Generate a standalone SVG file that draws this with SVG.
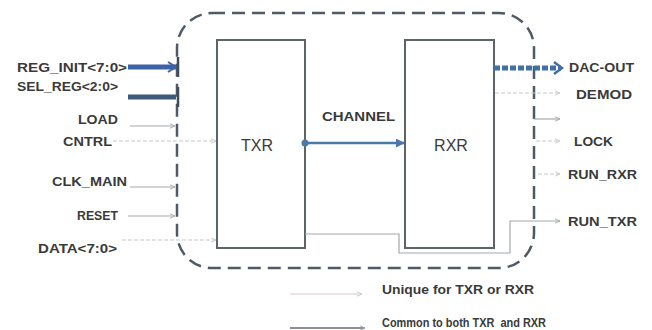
<svg xmlns="http://www.w3.org/2000/svg" width="652" height="330" viewBox="0 0 652 330">
<defs>
<style>
.lbl{font-family:"Liberation Sans",Arial,sans-serif;font-weight:bold;font-size:12.5px;fill:#3a3a3a}
.blk{font-family:"Liberation Sans",Arial,sans-serif;font-size:16px;fill:#3a3a3a}
.box{fill:#fff;stroke:#5c6468;stroke-width:2}
.thin{fill:none;stroke:#a4a9ad;stroke-width:1.2}
.light{fill:none;stroke:#c4c8cc;stroke-width:1.2;stroke-dasharray:4 2}
</style>
<marker id="ah" viewBox="0 0 10 10" refX="9" refY="5" markerWidth="6" markerHeight="6" orient="auto" markerUnits="userSpaceOnUse">
<path d="M0,1 L9,5 L0,9" fill="none" stroke="#a4a9ad" stroke-width="1.5"/>
</marker>
<marker id="ahl" viewBox="0 0 10 10" refX="9" refY="5" markerWidth="6" markerHeight="6" orient="auto" markerUnits="userSpaceOnUse">
<path d="M0,1 L9,5 L0,9" fill="none" stroke="#c4c8cc" stroke-width="1.5"/>
</marker>
<marker id="ahb" viewBox="0 0 10 10" refX="9" refY="5" markerWidth="9" markerHeight="9" orient="auto" markerUnits="userSpaceOnUse">
<path d="M0,0 L10,5 L0,10 z" fill="#4a78a8"/>
</marker>
</defs>
<rect width="652" height="330" fill="#fff"/>

<g id="boundary">
<rect x="177" y="13" width="357" height="255" rx="35" ry="35" fill="none" stroke="#4f5a66" stroke-width="2.5" stroke-dasharray="13 7"/>
</g>

<g id="TXR">
<rect class="box" x="217" y="40" width="88" height="208"/>
<text class="blk" x="257" y="151" text-anchor="middle">TXR</text>
</g>
<g id="RXR">
<rect class="box" x="405" y="40" width="89" height="208"/>
<text class="blk" x="451" y="151" text-anchor="middle">RXR</text>
</g>

<g id="connectors">
<line x1="128" y1="67" x2="176" y2="67" stroke="#3e62a8" stroke-width="5"/>
<path d="M168,62 L176,67 L168,72" fill="none" stroke="#3e62a8" stroke-width="2"/>
<line x1="178" y1="57" x2="178" y2="77" stroke="#3e4e60" stroke-width="2.5"/>
<line x1="128" y1="97" x2="176" y2="97" stroke="#3d5a78" stroke-width="5"/>
<line x1="178" y1="87" x2="178" y2="107" stroke="#3e4e60" stroke-width="2.5"/>
<line class="thin" x1="130" y1="126" x2="175" y2="126" marker-end="url(#ah)"/>
<line class="light" x1="113" y1="141" x2="216" y2="141" marker-end="url(#ahl)"/>
<line class="thin" x1="130" y1="187" x2="175" y2="187" marker-end="url(#ah)"/>
<line class="thin" x1="128" y1="216" x2="175" y2="216" marker-end="url(#ah)"/>
<line class="light" x1="122" y1="240" x2="216" y2="240" marker-end="url(#ahl)"/>
<circle cx="305" cy="143" r="3.5" fill="#4a78a8"/>
<line x1="305" y1="143" x2="404" y2="143" stroke="#4a78a8" stroke-width="2.5" marker-end="url(#ahb)"/>
<line x1="494" y1="68" x2="561" y2="68" stroke="#4070a8" stroke-width="5" stroke-dasharray="6 2"/>
<path d="M554,62 L562,68 L554,74" fill="none" stroke="#4070a8" stroke-width="2.5"/>
<line class="light" x1="495" y1="93" x2="560" y2="93" marker-end="url(#ahl)"/>
<line class="thin" x1="534" y1="119" x2="560" y2="119" marker-end="url(#ah)"/>
<line class="light" x1="536" y1="141" x2="560" y2="141" marker-end="url(#ahl)"/>
<line class="light" x1="538" y1="174" x2="560" y2="174" marker-end="url(#ahl)"/>
<polyline class="thin" points="305,234 399,234 399,253 510,253 510,221 560,221" marker-end="url(#ah)"/>
<line x1="290" y1="294" x2="362" y2="294" stroke="#d8c8cc" stroke-width="1.2" marker-end="url(#ahl)"/>
<line x1="290" y1="328" x2="365" y2="328" stroke="#8a9096" stroke-width="2" marker-end="url(#ah)"/>
</g>

<g id="labels">
<text class="lbl" x="17" y="72" textLength="110" lengthAdjust="spacingAndGlyphs">REG_INIT&lt;7:0&gt;</text>
<text class="lbl" x="17" y="91" textLength="101" lengthAdjust="spacingAndGlyphs">SEL_REG&lt;2:0&gt;</text>
<text class="lbl" x="78" y="124" textLength="40" lengthAdjust="spacingAndGlyphs">LOAD</text>
<text class="lbl" x="63" y="146" textLength="49" lengthAdjust="spacingAndGlyphs">CNTRL</text>
<text class="lbl" x="52" y="186" textLength="75" lengthAdjust="spacingAndGlyphs">CLK_MAIN</text>
<text class="lbl" x="77" y="220" textLength="41" lengthAdjust="spacingAndGlyphs">RESET</text>
<text class="lbl" x="38" y="253" textLength="79" lengthAdjust="spacingAndGlyphs">DATA&lt;7:0&gt;</text>
<text class="lbl" x="322" y="121" textLength="73" lengthAdjust="spacingAndGlyphs">CHANNEL</text>
<text class="lbl" x="569" y="72" textLength="65" lengthAdjust="spacingAndGlyphs">DAC-OUT</text>
<text class="lbl" x="576" y="99" textLength="56" lengthAdjust="spacingAndGlyphs">DEMOD</text>
<text class="lbl" x="574" y="146" textLength="39" lengthAdjust="spacingAndGlyphs">LOCK</text>
<text class="lbl" x="568" y="179" textLength="69" lengthAdjust="spacingAndGlyphs">RUN_RXR</text>
<text class="lbl" x="568" y="226" textLength="69" lengthAdjust="spacingAndGlyphs">RUN_TXR</text>
<text class="lbl" x="382" y="294" textLength="152" lengthAdjust="spacingAndGlyphs">Unique for TXR or RXR</text>
<text class="lbl" x="382" y="327" textLength="164" lengthAdjust="spacingAndGlyphs" xml:space="preserve">Common to both TXR  and RXR</text>
</g>
</svg>
